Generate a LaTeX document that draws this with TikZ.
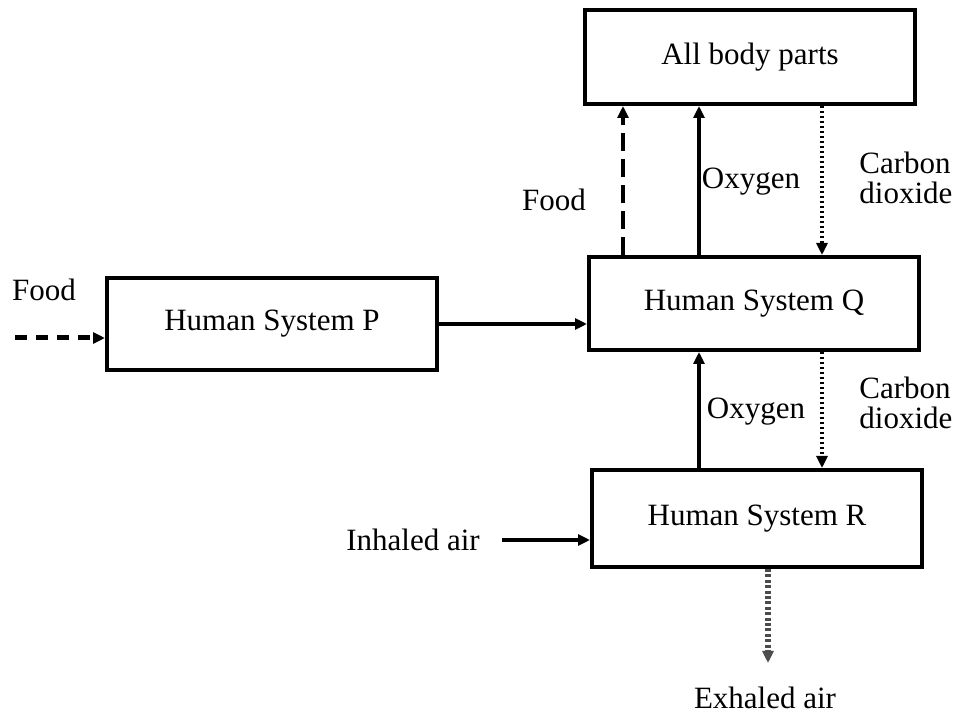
\documentclass[tikz,border=0pt]{standalone}
\usepackage{fontspec}
\setmainfont{Liberation Serif}
\usetikzlibrary{arrows.meta}
\begin{document}
\begin{tikzpicture}[x=0.5pt,y=-0.5pt,
  every node/.style={font=\fontsize{15.5}{15.5}\selectfont},
  sysbox/.style={draw,line width=2pt,minimum width=165pt,inner sep=0pt},
  tip/.style={-{Triangle[length=6pt,width=5.5pt]}},
  solidarrow/.style={tip,line width=1.8pt},
  foodarrow/.style={tip,line width=2.2pt,dash pattern=on 9pt off 4pt},
  foodin/.style={tip,line width=2.5pt,dash pattern=on 6pt off 4.5pt},
  coarrow/.style={tip,line width=2pt,dash pattern=on 1.2pt off 1.3pt},
  exarrow/.style={tip,line width=3pt,black!70,dash pattern=on 1.5pt off 1.2pt},
  lbl/.style={inner sep=0pt}]
\useasboundingbox (0,0) rectangle (959,715);
\fill[white] (0,0) rectangle (959,715);

\node[sysbox,minimum height=47pt] (A) at (750,57) {All body parts};
\node[sysbox,minimum height=46pt] (P) at (272,324) {Human System P};
\node[sysbox,minimum height=46.5pt] (Q) at (754,303.5) {Human System Q};
\node[sysbox,minimum height=48.5pt] (R) at (757,518.5) {Human System R};

\coordinate (fin) at (15,338);
\coordinate (xf) at (623,0);
\coordinate (xo) at (699,0);
\coordinate (xc) at (822,0);
\coordinate (ia) at (502,540);
\coordinate (xe) at (768,0);
\coordinate (ee) at (768,663);

% Food into P
\draw[foodin] (fin) -- (fin -| P.west);
\node[lbl] (foodL) at (44,290) {Food};

% P to Q
\draw[solidarrow] (P.east) -- (P.east -| Q.west);

% Q to All body parts: food
\draw[foodarrow] (Q.north -| xf) -- (A.south -| xf);
\node[lbl] (foodU) at (554,200) {Food};

% Oxygen Q -> A
\draw[solidarrow] (Q.north -| xo) -- (A.south -| xo);
\node[lbl] (oxU) at (751,182) {Oxygen};

% CO2 A -> Q
\draw[coarrow] (A.south -| xc) -- (Q.north -| xc);
\node[lbl,align=left,anchor=west] (coU) at (859,178) {Carbon\\[-0.5pt]dioxide};

% Oxygen R -> Q
\draw[solidarrow] (R.north -| xo) -- (Q.south -| xo);
\node[lbl] (oxL) at (756,412) {Oxygen};

% CO2 Q -> R
\draw[coarrow] (Q.south -| xc) -- (R.north -| xc);
\node[lbl,align=left,anchor=west] (coL) at (859,403) {Carbon\\[-0.5pt]dioxide};

% Inhaled air
\node[lbl] (inh) at (413,540) {Inhaled air};
\draw[solidarrow] (ia) -- (ia -| R.west);

% Exhaled air
\draw[exarrow] (R.south -| xe) -- (ee);
\node[lbl] (exh) at (765,698) {Exhaled air};
\end{tikzpicture}
\end{document}
